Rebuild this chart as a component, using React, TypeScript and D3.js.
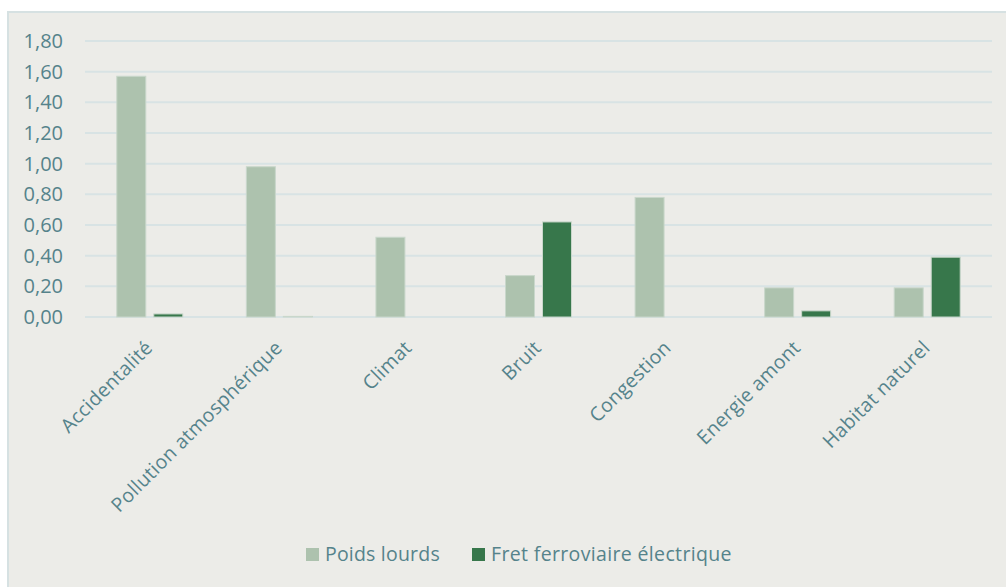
import { useEffect, useRef } from "react";
import * as d3 from "d3";

const categories = [
  "Accidentalité",
  "Pollution atmosphérique",
  "Climat",
  "Bruit",
  "Congestion",
  "Energie amont",
  "Habitat naturel",
];
const seriesNames = ["Poids lourds", "Fret ferroviaire électrique"];
const poidsLourds = [1.57, 0.98, 0.52, 0.27, 0.78, 0.19, 0.19];
const fretElectrique = [0.02, 0.004, 0, 0.62, 0, 0.04, 0.39];
const yTicks = [0, 0.2, 0.4, 0.6, 0.8, 1.0, 1.2, 1.4, 1.6, 1.8];

const colors = ["#ADC2AE", "#37774B"];
const textColor = "#55838B";
const gridColor = "#D8E3E4";
const font = "'Open Sans', sans-serif";

export default function App() {
  const svgRef = useRef<SVGSVGElement>(null);

  useEffect(() => {
    const svg = d3.select(svgRef.current!);
    svg.selectAll("*").remove();

    const width = 1006;
    const height = 587;

    // background + frame
    svg.append("rect").attr("width", width).attr("height", height).attr("fill", "#fff");
    svg
      .append("rect")
      .attr("x", 8)
      .attr("y", 12)
      .attr("width", 1010)
      .attr("height", 590)
      .attr("fill", "#ECECE8")
      .attr("stroke", "#D6E1E2")
      .attr("stroke-width", 2);

    const x0 = d3.scaleBand<string>().domain(categories).range([85, 992]).padding(0);
    const x1 = d3
      .scaleBand<string>()
      .domain(seriesNames)
      .range([0, 66])
      .paddingInner(8 / 37);
    const y = d3.scaleLinear().domain([0, 1.8]).range([317, 41]);

    const fmt = (v: number) => v.toFixed(2).replace(".", ",");

    // gridlines
    svg
      .append("g")
      .selectAll("line")
      .data(yTicks)
      .join("line")
      .attr("x1", 85)
      .attr("x2", 992)
      .attr("y1", (d) => y(d))
      .attr("y2", (d) => y(d))
      .attr("stroke", gridColor)
      .attr("stroke-width", 2);

    // y labels
    svg
      .append("g")
      .selectAll("text")
      .data(yTicks)
      .join("text")
      .attr("x", 63)
      .attr("y", (d) => y(d))
      .attr("dy", "0.35em")
      .attr("text-anchor", "end")
      .attr("font-family", font)
      .attr("font-size", 20)
      .attr("fill", textColor)
      .text(fmt);

    // bars
    const seriesData = [poidsLourds, fretElectrique];
    seriesData.forEach((vals, si) => {
      svg
        .append("g")
        .selectAll("rect")
        .data(vals)
        .join("rect")
        .attr("x", (_d, i) => x0(categories[i])! + x0.bandwidth() / 2 - 33 + x1(seriesNames[si])!)
        .attr("y", (d) => y(d))
        .attr("width", x1.bandwidth())
        .attr("height", (d) => y(0) - y(d))
        .attr("fill", colors[si])
        .attr("stroke", (d) => (d > 0 ? "#C9D7CB" : "none"))
        .attr("stroke-width", 1);
    });

    // category labels
    svg
      .append("g")
      .selectAll("text")
      .data(categories)
      .join("text")
      .attr(
        "transform",
        (d) => `translate(${x0(d)! + x0.bandwidth() / 2 + 4},${349}) rotate(-45)`
      )
      .attr("text-anchor", "end")
      .attr("font-family", font)
      .attr("font-size", 19.5)
      .attr("letter-spacing", 0.3)
      .attr("fill", textColor)
      .text((d) => d);

    // legend
    const legendX = [306, 472];
    const lg = svg.append("g");
    seriesNames.forEach((name, i) => {
      lg.append("rect")
        .attr("x", legendX[i])
        .attr("y", 548)
        .attr("width", 13)
        .attr("height", 13)
        .attr("fill", colors[i]);
      lg.append("text")
        .attr("x", legendX[i] + 19)
        .attr("y", 561)
        .attr("font-family", font)
        .attr("font-size", 19.5)
        .attr("letter-spacing", i === 1 ? 0.35 : 0.2)
        .attr("fill", textColor)
        .text(name);
    });
  }, []);

  return (
    <svg
      ref={svgRef}
      width={1006}
      height={587}
      style={{ position: "absolute", left: 0, top: 0, display: "block" }}
    />
  );
}
